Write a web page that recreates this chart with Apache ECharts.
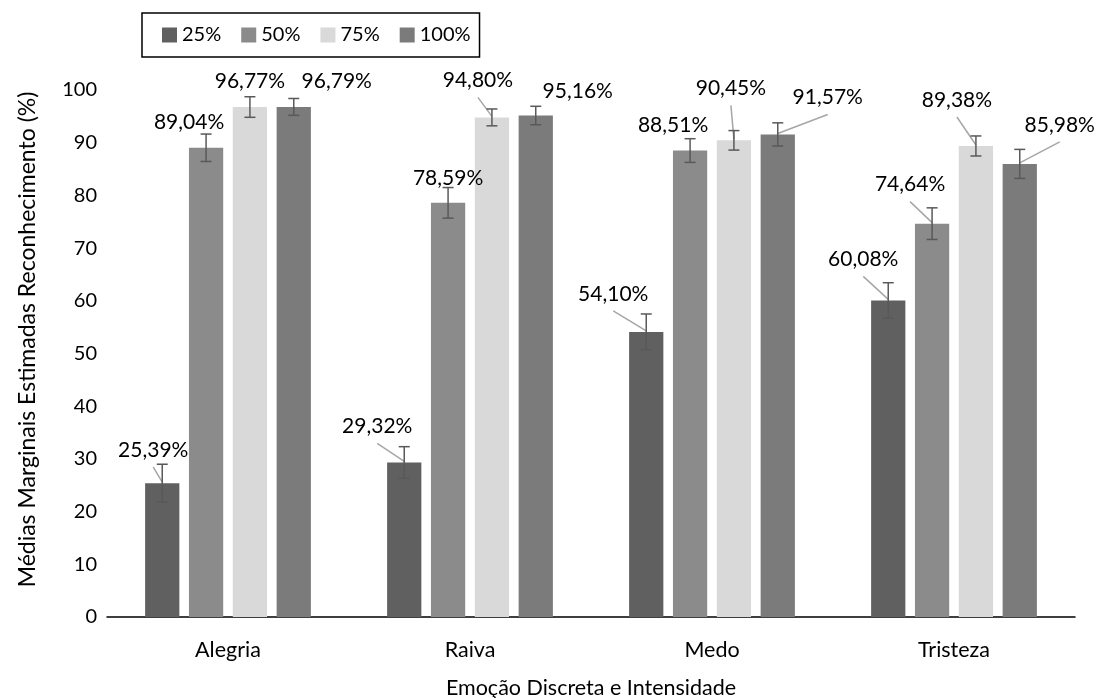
<!DOCTYPE html>
<html>
<head>
<meta charset="utf-8">
<script src="https://cdn.jsdelivr.net/npm/echarts@6/dist/echarts.min.js"></script>
<style>
html,body{margin:0;padding:0;background:#fff;}
#chart{width:1098px;height:698px;}
</style>
</head>
<body>
<div id="chart"></div>
<script>
// ---- data ----
const categories = ['Alegria', 'Raiva', 'Medo', 'Tristeza'];
const seriesNames = ['25%', '50%', '75%', '100%'];
const values25 = [25.39, 29.32, 54.10, 60.08];
const values50 = [89.04, 78.59, 88.51, 74.64];
const values75 = [96.77, 94.80, 90.45, 89.38];
const values100 = [96.79, 95.16, 91.57, 85.98];
const err25 = [3.6, 3.0, 3.4, 3.35];
const err50 = [2.6, 2.9, 2.25, 3.0];
const err75 = [1.95, 1.6, 1.85, 1.9];
const err100 = [1.6, 1.75, 2.2, 2.75];
const yMin = 0, yMax = 100, yInterval = 10;

// ---- styling ----
const colors = ['#606060', '#8b8b8b', '#d9d9d9', '#7b7b7b'];
const FONT = 'Lato';
const CAT_GAP = 0.315, BAR_GAP = 0.28;
// label offsets (px) from bar-top centre, per series then category
const labelOffsets = [
  [[-9, -33], [-27, -36], [-33, -38], [-25, -41]],
  [[-17, -26], [0, -25], [-17, -25], [-22, -39]],
  [[0, -26], [-14, -37], [-3, -52], [-19, -46]],
  [[43, -26], [42, -24], [50, -37], [40, -39]]
];
const leaderShown = [
  [true, true, true, true],
  [false, false, false, true],
  [false, true, true, true],
  [false, false, true, true]
];

const valueSets = [values25, values50, values75, values100];
const errSets = [err25, err50, err75, err100];

const fmt = v => v.toFixed(2).replace('.', ',') + '%';

const overlayData = [];
valueSets.forEach((vals, s) => {
  vals.forEach((v, c) => overlayData.push([c, v, errSets[s][c], s]));
});

function renderOverlay(params, api) {
  const c = api.value(0), v = api.value(1), e = api.value(2), s = api.value(3);
  const catW = api.size([1, 0])[0];
  const bw = catW * (1 - CAT_GAP) / (4 + 3 * BAR_GAP);
  const pitch = bw * (1 + BAR_GAP);
  const p = api.coord([c, v]);
  const x = p[0] + (s - 1.5) * pitch;
  const yTop = p[1];
  const yHi = api.coord([c, v + e])[1];
  const yLo = api.coord([c, v - e])[1];
  const off = labelOffsets[s][c];
  const lx = x + off[0], ly = yTop + off[1];
  const cap = 5.5;
  const children = [];
  if (leaderShown[s][c]) {
    children.push({
      type: 'line',
      shape: { x1: lx, y1: ly + 17, x2: x, y2: yTop - 1 },
      style: { stroke: '#a6a6a6', lineWidth: 1.5 }
    });
  }
  const eb = { stroke: '#595959', lineWidth: 1.5 };
  children.push({ type: 'line', shape: { x1: x, y1: yHi, x2: x, y2: yLo }, style: eb });
  children.push({ type: 'line', shape: { x1: x - cap, y1: yHi, x2: x + cap, y2: yHi }, style: eb });
  children.push({ type: 'line', shape: { x1: x - cap, y1: yLo, x2: x + cap, y2: yLo }, style: eb });
  children.push({
    type: 'text',
    style: {
      text: fmt(v), x: lx, y: ly, align: 'center', verticalAlign: 'middle',
      font: '21px ' + FONT, fill: '#000'
    }
  });
  return { type: 'group', children };
}

const barSeries = seriesNames.map((name, s) => ({
  name,
  type: 'bar',
  data: valueSets[s],
  barCategoryGap: (CAT_GAP * 100) + '%',
  barGap: (BAR_GAP * 100) + '%',
  itemStyle: { color: colors[s] },
  silent: true
}));

const chart = echarts.init(document.getElementById('chart'), null, { renderer: 'canvas' });
chart.setOption({
  animation: false,
  backgroundColor: '#fff',
  textStyle: { fontFamily: FONT },
  legend: {
    data: seriesNames,
    left: 142, top: 13,
    padding: [12, 9, 12, 20],
    itemGap: 20, itemWidth: 15, itemHeight: 15,
    icon: 'rect',
    borderColor: '#000', borderWidth: 1.5,
    textStyle: { fontSize: 20, fontFamily: FONT, color: '#000' }
  },
  grid: { left: 107, right: 23, top: 90, bottom: 81, containLabel: false, outerBoundsMode: 'none' },
  xAxis: {
    type: 'category',
    data: categories,
    axisLine: { lineStyle: { color: '#000', width: 1.5 } },
    axisTick: { show: false },
    axisLabel: { fontSize: 21.5, fontFamily: FONT, color: '#000', margin: 22 },
    name: 'Emoção Discreta e Intensidade',
    nameLocation: 'middle',
    nameGap: 60,
    nameTextStyle: { fontSize: 21.5, fontFamily: FONT, color: '#000' }
  },
  yAxis: {
    type: 'value',
    min: yMin, max: yMax, interval: yInterval,
    axisLine: { show: false },
    axisTick: { show: false },
    splitLine: { show: false },
    axisLabel: { fontSize: 20, fontFamily: FONT, color: '#000', margin: 10 },
    name: 'Médias Marginais Estimadas Reconhecimento (%)',
    nameLocation: 'middle',
    nameGap: 68,
    nameTextStyle: { fontSize: 23, fontFamily: FONT, color: '#000', padding: [0, 0, 0, 28] }
  },
  series: barSeries.concat([{
    type: 'custom',
    name: 'overlay',
    coordinateSystem: 'cartesian2d',
    renderItem: renderOverlay,
    encode: { x: 0, y: 1 },
    data: overlayData,
    z: 5,
    silent: true
  }])
});
</script>
</body>
</html>
